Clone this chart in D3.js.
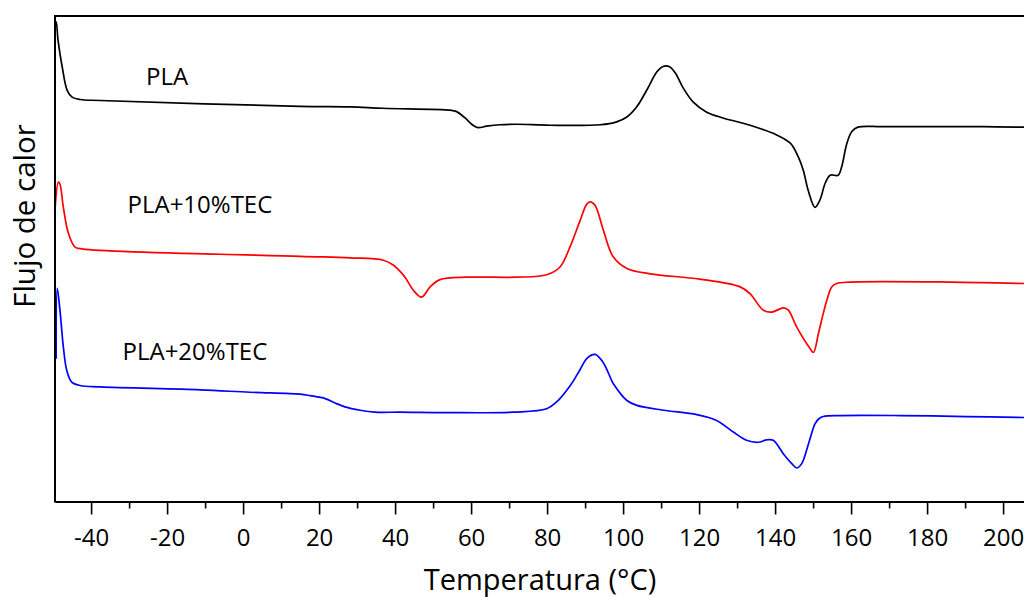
<!DOCTYPE html>
<html>
<head>
<meta charset="utf-8">
<script src="https://cdn.jsdelivr.net/npm/d3@7/dist/d3.min.js"></script>
<style>
  html, body { margin: 0; padding: 0; background: #fff; }
  svg { display: block; }
  text { font-family: "Open Sans", "Noto Sans", sans-serif; fill: #000; }
</style>
</head>
<body>
<svg id="chart" width="1024" height="597"></svg>
<script>
// ---- Data (temperature in °C, heat flow in arbitrary units, endo down) ----
const seriesNames = ["PLA", "PLA+10%TEC", "PLA+20%TEC"];
const seriesColors = ["#000000", "#ff0000", "#0000ff"];

const plaT = [-49.5,-49.2,-48.7,-47.6,-46.3,-45,-42.9,-37.6,15,28.2,36.8,54.5,56.2,58.4,60.5,61.8,64.1,67.6,72,80.8,94,98.3,101,103.6,106.2,108.9,110.5,112.1,113.7,115.8,118.4,122,126.3,133.4,140.4,144,146.1,147.4,148.7,150.5,151.8,153.2,154.5,156.6,157.5,158.9,160.2,161.8,168.4,194.7,205.5];
const plaV = [98.3,98.8,95.0,89.5,84.7,83.3,82.8,82.6,81.4,81.3,81.0,80.6,80.3,79.0,77.5,77.0,77.3,77.6,77.7,77.5,77.6,78.2,79.2,81.3,84.7,88.5,89.6,89.6,88.3,85.2,82.3,80.2,79.0,77.5,75.5,73.8,71.0,68.3,64.1,60.6,62.1,65.6,67.2,67.2,68.9,73.8,76.2,77.1,77.2,77.2,77.1];

const tec10T = [-49.5,-48.6,-48.2,-47.3,-46,-44.2,-42.1,15,28.2,36.9,39.5,42.6,44.8,47,49.2,51.8,58.9,72,79.9,83.4,86,88.7,90.4,91.3,92.6,94.8,97.4,101,107.1,120.2,130.8,133.4,136.9,139.1,142.2,143.5,145.7,149.2,150.1,151.4,152.7,153.6,154.9,156.2,159.7,186.1,205.5];
const tec10V = [60.0,65.8,65.4,60.6,55.3,52.4,52.0,50.5,50.2,49.7,48.7,46.2,43.5,42.1,44.2,45.7,46.2,46.2,46.7,48.3,52.4,57.9,61.2,61.7,61.0,55.9,50.4,48.0,46.9,45.8,44.2,42.8,39.4,39.0,39.9,39.4,35.9,31.5,30.7,34.6,38.8,41.4,44.2,44.9,45.2,45.2,44.9];

const tec20T = [-49.2,-48.9,-48.2,-47.3,-46.4,-45.1,-42.9,-37.6,-11.3,1.8,15,17.6,21.6,24.2,26.8,30.8,34.7,41.3,53.6,71.1,79.9,82.5,86.1,88.7,90.5,92.6,94.7,97,97.4,101,103.6,110.6,119.4,124.6,129,132.5,135.6,137.8,139.5,142.2,144.4,145.7,147,148.8,150.5,151.6,152.7,157.1,172.9,190.4,205.5];
const tec20V = [29.4,43.9,39.4,31.8,27.0,24.6,23.9,23.6,23.0,22.5,22.1,21.8,21.2,20.3,19.5,18.8,18.4,18.4,18.3,18.4,19.1,20.5,23.9,27.2,29.5,30.3,28.7,24.9,24.3,20.8,19.8,18.8,17.9,16.7,14.3,12.6,12.2,12.7,12.6,9.8,7.8,6.9,7.8,11.9,16.0,17.1,17.5,17.7,17.7,17.5,17.3];

const xMajorTicks = [-40,-20,0,20,40,60,80,100,120,140,160,180,200];
const xMinorTicks = [-30,-10,10,30,50,70,90,110,130,150,170,190];
const xTitle = "Temperatura (°C)";
const yTitle = "Flujo de calor";

// ---- Layout ----
const svg = d3.select("#chart");
const mLeft = 55, mRight = 1024, mTop = 16, mBottom = 501.5;

const x = d3.scaleLinear().domain([-49.5, 205.5]).range([mLeft, mRight]);
const y = d3.scaleLinear().domain([0, 100]).range([mBottom, mTop]);

const series = [
  {name: seriesNames[0], color: seriesColors[0], pts: plaT.map((t,i)=>[t, plaV[i]])},
  {name: seriesNames[1], color: seriesColors[1], pts: tec10T.map((t,i)=>[t, tec10V[i]])},
  {name: seriesNames[2], color: seriesColors[2], pts: tec20T.map((t,i)=>[t, tec20V[i]])}
];

const line = d3.line()
  .x(d => x(d[0]))
  .y(d => y(d[1]))
  .curve(d3.curveCatmullRom.alpha(0.5));

svg.append("g").selectAll("path")
  .data(series)
  .join("path")
  .attr("d", d => line(d.pts))
  .attr("fill", "none")
  .attr("stroke", d => d.color)
  .attr("stroke-width", 1.7)
  .attr("stroke-linejoin", "round");

// Frame: top line and left axis
svg.append("line")
  .attr("x1", mLeft).attr("x2", mRight)
  .attr("y1", mTop).attr("y2", mTop)
  .attr("stroke", "#000").attr("stroke-width", 2);
svg.append("line")
  .attr("x1", mLeft).attr("x2", mLeft)
  .attr("y1", mTop - 1).attr("y2", mBottom + 1)
  .attr("stroke", "#000").attr("stroke-width", 2);

// X axis
const xAxis = svg.append("g")
  .attr("transform", `translate(0,${mBottom})`)
  .call(d3.axisBottom(x).tickValues(xMajorTicks).tickSize(13).tickSizeOuter(0).tickFormat(d => String(d)));
xAxis.select(".domain").attr("stroke", "#000").attr("stroke-width", 2.2);
xAxis.selectAll(".tick line").attr("stroke", "#000").attr("stroke-width", 1.6);
xAxis.selectAll(".tick text")
  .attr("y", 44.5).attr("dy", 0)
  .style("font-family", '"Open Sans", sans-serif')
  .style("font-size", "24px")
  .attr("fill", "#000");

const xMinor = svg.append("g")
  .attr("transform", `translate(0,${mBottom})`)
  .call(d3.axisBottom(x).tickValues(xMinorTicks).tickSize(7).tickSizeOuter(0).tickFormat(""));
xMinor.select(".domain").remove();
xMinor.selectAll(".tick line").attr("stroke", "#000").attr("stroke-width", 1.6);

// Titles
svg.append("text")
  .attr("x", 540).attr("y", 590)
  .attr("text-anchor", "middle")
  .style("font-size", "29px")
  .text(xTitle);

svg.append("text")
  .attr("transform", "translate(35,216) rotate(-90)")
  .attr("text-anchor", "middle")
  .style("font-size", "29.5px")
  .text(yTitle);

// Curve labels
const labelPos = [[146, 84.5], [127.5, 213.3], [122.5, 360]];
svg.append("g").selectAll("text")
  .data(series)
  .join("text")
  .attr("x", (d,i) => labelPos[i][0])
  .attr("y", (d,i) => labelPos[i][1])
  .style("font-size", "24px")
  .text(d => d.name);
</script>
</body>
</html>
